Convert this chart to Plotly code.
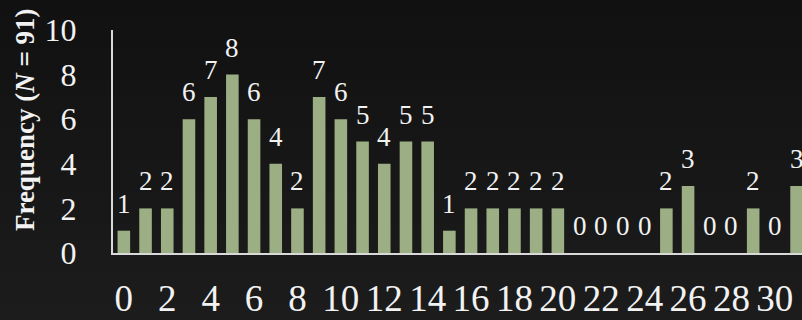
import plotly.graph_objects as go

categories = list(range(32))
frequency = [1, 2, 2, 6, 7, 8, 6, 4, 2, 7, 6, 5, 4, 5, 5, 1,
             2, 2, 2, 2, 2, 0, 0, 0, 0, 2, 3, 0, 0, 2, 0, 3]
x_tick_vals = list(range(0, 31, 2))
y_tick_vals = [0, 2, 4, 6, 8, 10]

FONT = "Liberation Serif"
TXT = "#f2f2f2"

W, H = 802, 320
ML, MR, MT, MB = 113, 0, 30, 67
PW, PH = W - ML - MR, H - MT - MB

fig = go.Figure()

# subtle vertical background gradient (dark at top, slightly lighter at bottom)
n = 20
top_c, bot_c = 17, 28
for i in range(n):
    y0_px = H * i / n
    y1_px = H * (i + 1) / n + 1
    g = round(top_c + (bot_c - top_c) * (i + 0.5) / n)
    fig.add_shape(type="rect", xref="paper", yref="paper", layer="below",
                  x0=-ML / PW, x1=1.0,
                  y0=(H - MB - y1_px) / PH, y1=(H - MB - y0_px) / PH,
                  line=dict(width=0), fillcolor=f"rgb({g},{g},{g})")

fig.add_trace(go.Bar(
    x=categories, y=frequency,
    marker=dict(color="#9caf84", line=dict(width=0)),
    width=0.58,
    hoverinfo="x+y",
))

for c, v in zip(categories, frequency):
    fig.add_annotation(x=c, y=v, text=str(v), showarrow=False,
                       xanchor="center", yanchor="bottom", yshift=10,
                       font=dict(family=FONT, size=27, color=TXT))

fig.add_annotation(xref="paper", yref="paper", x=-0.1277, y=0.596,
                   text="<b>Frequency (<i>N</i> = 91)</b>", textangle=-90,
                   showarrow=False, xanchor="center", yanchor="middle",
                   font=dict(family=FONT, size=27, color=TXT))

fig.update_layout(
    width=W, height=H,
    margin=dict(l=ML, r=MR, t=MT, b=MB),
    paper_bgcolor="#171717", plot_bgcolor="rgba(0,0,0,0)",
    showlegend=False,
    xaxis=dict(range=[-0.5, 31.25], tickmode="array", tickvals=x_tick_vals,
               ticktext=[str(t) for t in x_tick_vals], tickangle=0,
               showgrid=False, zeroline=False, showline=True,
               linecolor="#d9d9d9", linewidth=2, ticks="",
               automargin=False, ticklabelstandoff=12,
               tickfont=dict(family=FONT, size=37, color=TXT)),
    yaxis=dict(range=[0, 10], tickmode="array", tickvals=y_tick_vals,
               showgrid=False, zeroline=False, showline=True,
               linecolor="#d9d9d9", linewidth=2, ticks="",
               automargin=False, ticklabelstandoff=28,
               tickfont=dict(family=FONT, size=32, color=TXT)),
)

fig.write_html("out.html")
